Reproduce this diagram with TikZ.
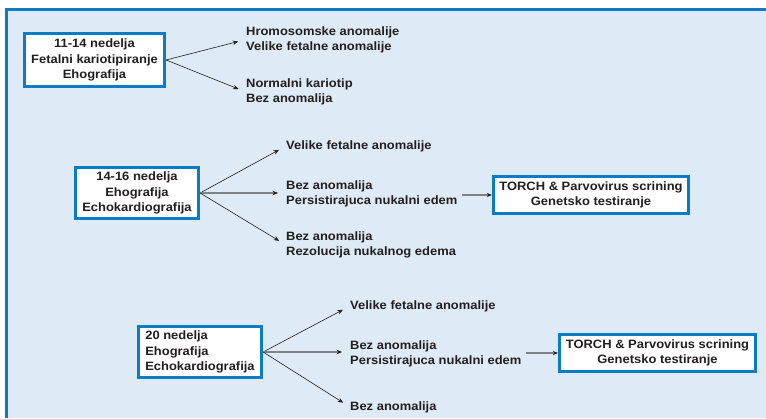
\documentclass[tikz,border=0pt]{standalone}
\usepackage{fontspec}
\setmainfont{Liberation Sans}[FakeStretch=1.07]
\usetikzlibrary{arrows.meta}
\definecolor{panel}{RGB}{222,234,245}
\definecolor{bblue}{RGB}{10,124,196}
\definecolor{txt}{RGB}{35,31,32}
\definecolor{midgray}{RGB}{128,130,133}
\begin{document}
\begin{tikzpicture}[x=1pt,y=-1pt,
  font=\fontsize{12.1}{15.2}\selectfont\bfseries,
  box/.style={draw=bblue, line width=2.7pt, fill=white, inner sep=0pt, align=center, text=txt},
  lab/.style={anchor=west, inner sep=0pt, align=left, text=txt},
  thinarrow/.style={draw=txt, line width=0.6pt, -{Stealth[length=5.5pt,width=4.5pt]}, shorten >=8pt},
  midarrow/.style={draw=midgray, line width=1.4pt, -{Stealth[length=5.5pt,width=4.5pt,color=txt]}, shorten >=8pt},
  toarrow/.style={draw=midgray, line width=1.2pt, -{Stealth[length=5pt,width=4pt,color=txt]}, shorten <=4pt}]
\useasboundingbox (0,0) rectangle (766,418);
\fill[white] (0,0) rectangle (766,418);
\fill[panel] (5,9) rectangle (766,418);
\draw[bblue, line width=2.5pt] (6.25,418) -- (6.25,9.25) -- (766,9.25);

% boxes
\node[box, minimum width=140.5pt, minimum height=53.5pt] (b1) at (94.5,60) {11-14 nedelja\\Fetalni kariotipiranje\\Ehografija};
\node[box, minimum width=123.5pt, minimum height=51.5pt] (b2) at (137,193) {14-16 nedelja\\Ehografija\\Echokardiografija};
\node[box, minimum width=123.5pt, minimum height=51.5pt, align=left] (b3) at (200,352) {20 nedelja\\Ehografija\\Echokardiografija};
\node[box, minimum width=195.5pt, minimum height=37.5pt] (t1) at (591,195) {TORCH \& Parvovirus scrining\\Genetsko testiranje};
\node[box, minimum width=196.5pt, minimum height=37.5pt] (t2) at (657.5,353) {TORCH \& Parvovirus scrining\\Genetsko testiranje};

% labels
\node[lab] (l1a) at (246,39.5) {Hromosomske anomalije\\Velike fetalne anomalije};
\node[lab] (l1b) at (246,92) {Normalni kariotip\\Bez anomalija};
\node[lab] (l2a) at (286,146) {Velike fetalne anomalije};
\node[lab] (l2b) at (286,194) {Bez anomalija\\Persistirajuca nukalni edem};
\node[lab] (l2c) at (286,245) {Bez anomalija\\Rezolucija nukalnog edema};
\node[lab] (l3a) at (350,306) {Velike fetalne anomalije};
\node[lab] (l3b) at (350,354) {Bez anomalija\\Persistirajuca nukalni edem};
\node[lab] (l3c) at (350,407) {Bez anomalija};

% connectors
\draw[thinarrow] (b1.east) -- (l1a.west);
\draw[thinarrow] (b1.east) -- (l1b.west);
\draw[thinarrow] (b2.east) -- (l2a.west);
\draw[midarrow] (b2.east) -- (b2.east -| l2b.west);
\draw[thinarrow] (b2.east) -- (l2c.west);
\draw[thinarrow] (b3.east) -- (l3a.west);
\draw[midarrow] (b3.east) -- (b3.east -| l3b.west);
\draw[thinarrow] (b3.east) -- (l3c.west);
\draw[toarrow] (l2b.east |- t1.west) -- (t1.west);
\draw[toarrow] (l3b.east |- t2.west) -- (t2.west);
\end{tikzpicture}
\end{document}
